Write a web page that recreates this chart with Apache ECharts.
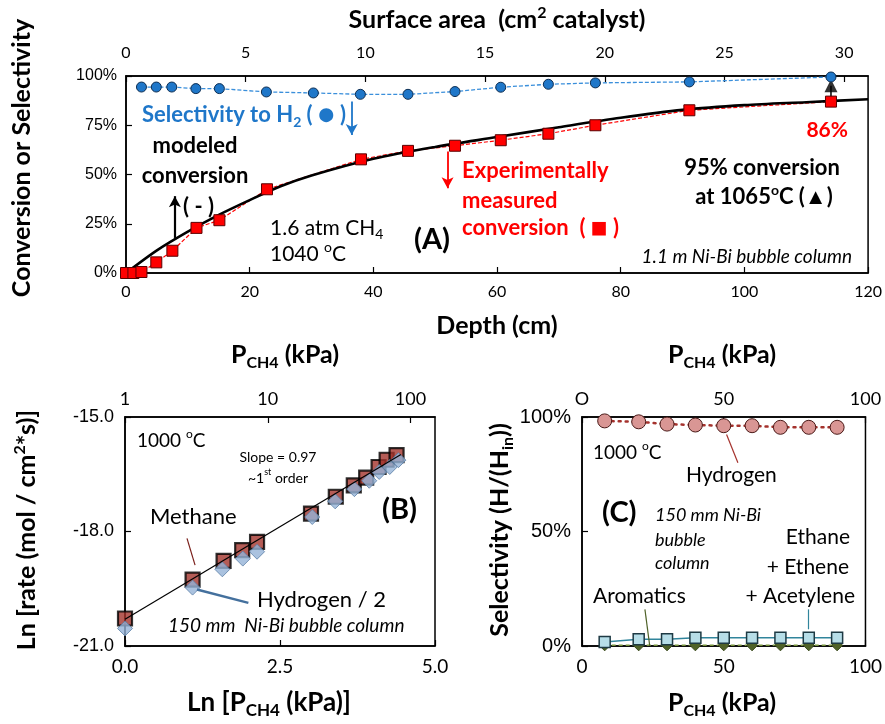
<!DOCTYPE html>
<html>
<head>
<meta charset="utf-8">
<script src="https://cdn.jsdelivr.net/npm/echarts@6/dist/echarts.min.js"></script>
<style>
  html, body { margin: 0; padding: 0; background: #fff; }
  #chart { width: 885px; height: 724px; }
</style>
</head>
<body>
<div id="chart"></div>
<script>
// ---- (A) conversion / selectivity vs depth ----
const selDepth = [2.5, 4.9, 7.4, 11.3, 15.1, 22.7, 30.3, 37.9, 45.6, 53.2, 60.6, 68.3, 75.9, 91.1, 114]
const selH2 = [94.4, 94.4, 94.4, 93.6, 93.6, 91.9, 91.4, 90.7, 90.7, 92.1, 94.3, 95.8, 96.5, 97, 99.5]
const expDepth = [0, 1.2, 2.5, 4.9, 7.5, 11.4, 15.1, 22.8, 38, 45.6, 53.2, 60.6, 68.3, 75.9, 91.1, 114]
const expConv = [0, 0, 0.5, 5.4, 11.3, 22.9, 26.8, 42.5, 57.7, 62, 64.6, 67.4, 70.7, 75, 82.6, 87]
const modelDepth = [0, 5, 10, 15, 20, 25, 30, 40, 50, 60, 70, 80, 90, 100, 110, 120]
const modelConv = [0, 11.5, 21, 29.5, 37, 44, 49.5, 58, 64, 69, 74, 78.8, 82.8, 85.2, 86.7, 88.2]
const hotDepth = [114]
const hotConv = [95]

// ---- (B) ln rate vs ln P ----
const lnP_CH4 = [0, 1.09, 1.59, 1.89, 2.13, 3.0, 3.4, 3.69, 3.89, 4.09, 4.22, 4.38]
const lnRate_CH4 = [-20.28, -19.26, -18.77, -18.49, -18.27, -17.53, -17.09, -16.79, -16.59, -16.31, -16.12, -16.0]
const lnP_H2 = [0, 1.09, 1.57, 1.9, 2.13, 3.02, 3.39, 3.7, 3.94, 4.1, 4.27, 4.41]
const lnRate_H2 = [-20.54, -19.47, -18.99, -18.71, -18.53, -17.62, -17.21, -16.89, -16.67, -16.44, -16.31, -16.13]
const fitLnP = [0, 4.45]
const fitLnRate = [-20.3, -15.98]

// ---- (C) selectivity vs P ----
const pC = [8, 20, 30, 40, 50, 60, 70, 80, 90]
const selHydrogen = [98.3, 97.9, 96.9, 96.5, 96.2, 96.2, 95.5, 95.5, 95.5]
const selC2 = [1.8, 2.9, 2.9, 3.6, 3.6, 3.6, 3.6, 3.6, 3.6]
const selArom = [0.3, 0.3, 0.3, 0.3, 0.3, 0.3, 0.3, 0.3, 0.3]

const FONT = 'Lato, "Noto Sans", sans-serif'
const NARROW = '"Liberation Sans Narrow", Lato, sans-serif'
const ARIAL = '"Liberation Sans", Arial, sans-serif'

const zip = (a, b) => a.map((v, i) => [v, b[i]])

const rich = (size, weight, color, style) => {
  const base = { fontFamily: FONT, fontWeight: weight || 'normal', fontStyle: style || 'normal', fill: color || '#000' }
  const small = Math.round(size * 0.65)
  return {
    n: Object.assign({ fontSize: size, lineHeight: size + 6 }, base),
    s: Object.assign({ fontSize: small, lineHeight: small, verticalAlign: 'bottom' }, base),
    u: Object.assign({ fontSize: small, lineHeight: small, verticalAlign: 'top' }, base),
    c: Object.assign({ fontSize: size + 6, lineHeight: size + 6 }, base)
  }
}

const txt = (x, y, text, size, opts) => {
  opts = opts || {}
  return {
    type: 'text', x: x, y: y, silent: true, rotation: opts.rot || 0,
    style: {
      text: text,
      rich: rich(size, opts.weight, opts.color, opts.style),
      align: opts.align || 'left',
      verticalAlign: 'middle'
    }
  }
}

const arrow = (from, to, color, width) => ({
  silent: true,
  symbol: ['none', 'arrow'],
  symbolSize: [9, 11],
  label: { show: false },
  lineStyle: { color: color, width: width || 1.8, type: 'solid' },
  data: [[{ coord: from }, { coord: to }]]
})

const leader = (segs, color, width) => ({
  silent: true,
  symbol: ['none', 'none'],
  label: { show: false },
  lineStyle: { color: color, width: width || 1.2, type: 'solid' },
  data: segs.map(s => [{ coord: s[0] }, { coord: s[1] }])
})

const axisLine = { show: true, lineStyle: { color: '#000', width: 1.5 } }
const tickIn = { show: true, inside: true, length: 6, lineStyle: { color: '#000', width: 1.2 } }
const noSplit = { show: false }

const chart = echarts.init(document.getElementById('chart'))

const option = {
  animation: false,
  backgroundColor: '#fff',
  grid: [
    { left: 126, top: 76, width: 744, height: 197, show: true, borderColor: '#000', borderWidth: 1.5 },
    { left: 125, top: 417, width: 310, height: 229, show: true, borderColor: '#000', borderWidth: 1.5 },
    { left: 582, top: 417, width: 284, height: 229, show: true, borderColor: '#000', borderWidth: 1.5 }
  ],
  xAxis: [
    { gridIndex: 0, type: 'value', position: 'bottom', min: 0, max: 120, interval: 20,
      axisLine, axisTick: tickIn, splitLine: noSplit,
      axisLabel: { color: '#000', fontFamily: NARROW, fontSize: 16, margin: 11 } },
    { gridIndex: 0, type: 'value', position: 'top', min: 0, max: 31, interval: 5,
      axisLine, axisTick: tickIn, splitLine: noSplit,
      axisLabel: { color: '#000', fontFamily: NARROW, fontSize: 16, margin: 15, showMaxLabel: false } },
    { gridIndex: 1, type: 'value', position: 'bottom', min: 0, max: 5, interval: 2.5,
      axisLine, axisTick: tickIn, splitLine: noSplit,
      axisLabel: { color: '#000', fontFamily: NARROW, fontSize: 19, margin: 11, formatter: v => v.toFixed(1) } },
    { gridIndex: 1, type: 'value', position: 'top', min: 0, max: 5, interval: Math.LN10,
      axisLine, axisTick: tickIn, splitLine: noSplit,
      axisLabel: { color: '#000', fontFamily: FONT, fontSize: 18, margin: 9, showMaxLabel: false,
        formatter: v => String(Math.round(Math.exp(v))) } },
    { gridIndex: 2, type: 'value', position: 'bottom', min: 0, max: 100, interval: 50,
      axisLine, axisTick: tickIn, splitLine: noSplit,
      axisLabel: { color: '#000', fontFamily: NARROW, fontSize: 19, margin: 11 } },
    { gridIndex: 2, type: 'value', position: 'top', min: 0, max: 100, interval: 50,
      axisLine, axisTick: tickIn, splitLine: noSplit,
      axisLabel: { color: '#000', fontFamily: FONT, fontSize: 18, margin: 9, formatter: v => v === 0 ? 'O' : String(v) } }
  ],
  yAxis: [
    { gridIndex: 0, type: 'value', min: 0, max: 100, interval: 25,
      axisLine, axisTick: tickIn, splitLine: noSplit,
      axisLabel: { color: '#000', fontFamily: ARIAL, fontSize: 16, margin: 9, formatter: v => v + '%' } },
    { gridIndex: 1, type: 'value', min: -21, max: -15, interval: 3,
      axisLine, axisTick: tickIn, splitLine: noSplit,
      axisLabel: { color: '#000', fontFamily: ARIAL, fontSize: 18, margin: 11, formatter: v => v.toFixed(1) } },
    { gridIndex: 2, type: 'value', min: 0, max: 100, interval: 50,
      axisLine, axisTick: tickIn, splitLine: noSplit,
      axisLabel: { color: '#000', fontFamily: ARIAL, fontSize: 20, margin: 11, formatter: v => v + '%' } }
  ],
  series: [
    // (A)
    { name: 'Selectivity to H2', type: 'line', xAxisIndex: 0, yAxisIndex: 0,
      data: zip(selDepth, selH2), symbol: 'circle', symbolSize: 10,
      lineStyle: { color: '#3A8FDB', width: 1.3, type: [4, 2] },
      itemStyle: { color: '#1F77C9', borderColor: '#0E2E52', borderWidth: 1 },
      markLine: arrow([36.5, 87], [36.5, 70], '#1F77C9', 1.8) },
    { name: 'Measured conversion', type: 'line', xAxisIndex: 0, yAxisIndex: 0,
      data: zip(expDepth, expConv), symbol: 'rect', symbolSize: 11,
      lineStyle: { color: '#FF0000', width: 1.2, type: [4, 2] },
      itemStyle: { color: '#FF0000', borderColor: '#5A0000', borderWidth: 1 },
      markLine: arrow([52, 61.7], [52, 43], '#FF0000', 1.8) },
    { name: 'Modeled conversion', type: 'line', xAxisIndex: 0, yAxisIndex: 0,
      data: zip(modelDepth, modelConv), smooth: 0.3, showSymbol: false, symbol: 'none',
      lineStyle: { color: '#000', width: 2.6 },
      markLine: arrow([7.9, 17.8], [7.9, 39], '#000', 2.2) },
    { name: 'Riser', type: 'line', xAxisIndex: 0, yAxisIndex: 0,
      data: [[hotDepth[0], expConv[expConv.length - 1]], [hotDepth[0], hotConv[0]]],
      showSymbol: false, symbol: 'none', lineStyle: { color: '#000', width: 1.5 } },
    { name: '1065C', type: 'scatter', xAxisIndex: 0, yAxisIndex: 0,
      data: zip(hotDepth, hotConv), symbol: 'triangle', symbolSize: 13,
      itemStyle: { color: '#000' } },

    // (B)
    { name: 'Fit', type: 'line', xAxisIndex: 2, yAxisIndex: 1,
      data: zip(fitLnP, fitLnRate), showSymbol: false, symbol: 'none',
      lineStyle: { color: '#000', width: 1.2 } },
    { name: 'Methane', type: 'scatter', xAxisIndex: 2, yAxisIndex: 1,
      data: zip(lnP_CH4, lnRate_CH4), symbol: 'rect', symbolSize: 14,
      itemStyle: { color: '#A3332C', borderColor: '#000', borderWidth: 2.2 },
      markLine: leader([[[1.0, -18.18], [1.13, -18.88]]], '#7A1F1A', 1.2) },
    { name: 'Hydrogen / 2', type: 'scatter', xAxisIndex: 2, yAxisIndex: 1,
      data: zip(lnP_H2, lnRate_H2), symbol: 'diamond', symbolSize: 15,
      itemStyle: { color: '#95B3D7', borderColor: '#5A7EA6', borderWidth: 1 },
      markLine: leader([[[1.16, -19.52], [1.99, -19.87]]], '#44709D', 2.5) },

    // (C)
    { name: 'Aromatics', type: 'line', xAxisIndex: 4, yAxisIndex: 2,
      data: zip(pC, selArom), symbol: 'diamond', symbolSize: 11,
      lineStyle: { color: '#77933C', width: 1.5, type: [4, 3] },
      itemStyle: { color: '#4F6228', borderColor: '#3A4A1C', borderWidth: 1 },
      markLine: leader([[[22.2, 16], [23.9, 0]]], '#4F6228', 1.2) },
    { name: 'Ethane + Ethene + Acetylene', type: 'line', xAxisIndex: 4, yAxisIndex: 2,
      data: zip(pC, selC2), symbol: 'rect', symbolSize: 11,
      lineStyle: { color: '#31859C', width: 1.5 },
      itemStyle: { color: '#B7DEE8', borderColor: '#1E3A44', borderWidth: 1.5 },
      markLine: leader([[[79.7, 16], [79.7, 7.3]]], '#31859C', 1.2) },
    { name: 'Hydrogen', type: 'line', xAxisIndex: 4, yAxisIndex: 2,
      data: zip(pC, selHydrogen), symbol: 'circle', symbolSize: 14,
      lineStyle: { color: '#A5322D', width: 2.5, type: [2, 5], cap: 'round' },
      itemStyle: { color: '#D99694', borderColor: '#4A1A18', borderWidth: 1 },
      markLine: leader([[[51, 92.4], [55, 80]]], '#A5322D', 1.2) }
  ],
  graphic: [
    // (A) axis titles
    txt(497, 20, '{n|Surface area  (cm}{u|2}{n| catalyst)}', 25, { weight: 'bold', align: 'center' }),
    txt(497, 326, '{n|Depth (cm)}', 25, { weight: 'bold', align: 'center' }),
    txt(22, 158, '{n|Conversion or Selectivity}', 25, { weight: 'bold', align: 'center', rot: Math.PI / 2 }),
    // (A) annotations
    txt(142, 115, '{n|Selectivity to H}{s|2}{n| ( }{c|●}{n| )}', 22, { weight: 'bold', color: '#1F77C9' }),
    txt(195, 146, '{n|modeled}', 22, { weight: 'bold', align: 'center' }),
    txt(195, 176, '{n|conversion}', 22, { weight: 'bold', align: 'center' }),
    txt(183, 207, '{n|( - )}', 22, { weight: 'bold' }),
    txt(270, 228, '{n|1.6 atm CH}{s|4}', 21),
    txt(270, 254, '{n|1040 }{u|o}{n|C}', 21),
    txt(414, 240, '{n|(A)}', 29, { weight: 'bold' }),
    txt(462, 171, '{n|Experimentally}', 22, { weight: 'bold', color: '#FF0000' }),
    txt(462, 201, '{n|measured}', 22, { weight: 'bold', color: '#FF0000' }),
    txt(462, 228, '{n|conversion  ( }{c|■}{n| )}', 22, { weight: 'bold', color: '#FF0000' }),
    txt(848, 130, '{n|86%}', 21, { weight: 'bold', color: '#FF0000', align: 'right' }),
    txt(762, 168, '{n|95% conversion}', 22, { weight: 'bold', align: 'center' }),
    txt(764, 197, '{n|at 1065}{u|o}{n|C (▲)}', 22, { weight: 'bold', align: 'center' }),
    txt(852, 257, '{n|1.1 m Ni-Bi bubble column}', 19, { style: 'italic', align: 'right' }),

    // (B)
    txt(285, 355, '{n|P}{s|CH4}{n| (kPa)}', 25, { weight: 'bold', align: 'center' }),
    txt(269, 703, '{n|Ln [P}{s|CH4}{n| (kPa)]}', 26, { weight: 'bold', align: 'center' }),
    txt(27, 530, '{n|Ln [rate (mol / cm}{u|2}{n|*s)]}', 25, { weight: 'bold', align: 'center', rot: Math.PI / 2 }),
    txt(137, 441, '{n|1000 }{u|o}{n|C}', 19),
    txt(278, 457, '{n|Slope = 0.97}', 14, { align: 'center' }),
    txt(278, 478, '{n|~1}{u|st}{n| order}', 14, { align: 'center' }),
    txt(382, 510, '{n|(B)}', 29, { weight: 'bold' }),
    txt(150, 517, '{n|Methane}', 22),
    txt(257, 600, '{n|Hydrogen / 2}', 22),
    txt(168, 626, '{n|150 mm  Ni-Bi bubble column}', 19, { style: 'italic' }),

    // (C)
    txt(722, 355, '{n|P}{s|CH4}{n| (kPa)}', 25, { weight: 'bold', align: 'center' }),
    txt(722, 703, '{n|P}{s|CH4}{n| (kPa)}', 25, { weight: 'bold', align: 'center' }),
    txt(500, 530, '{n|Selectivity (H/(H}{s|in}{n|))}', 25, { weight: 'bold', align: 'center', rot: Math.PI / 2 }),
    txt(593, 453, '{n|1000 }{u|o}{n|C}', 19),
    txt(686, 475, '{n|Hydrogen}', 21),
    txt(602, 513, '{n|(C)}', 29, { weight: 'bold' }),
    txt(655, 515, '{n|150 mm Ni-Bi}', 18, { style: 'italic' }),
    txt(655, 540, '{n|bubble}', 18, { style: 'italic' }),
    txt(655, 563, '{n|column}', 18, { style: 'italic' }),
    txt(850, 537, '{n|Ethane}', 21, { align: 'right' }),
    txt(849, 567, '{n|+ Ethene}', 21, { align: 'right' }),
    txt(855, 596, '{n|+ Acetylene}', 21, { align: 'right' }),
    txt(593, 596, '{n|Aromatics}', 21)
  ]
}

chart.setOption(option)
</script>
</body>
</html>
